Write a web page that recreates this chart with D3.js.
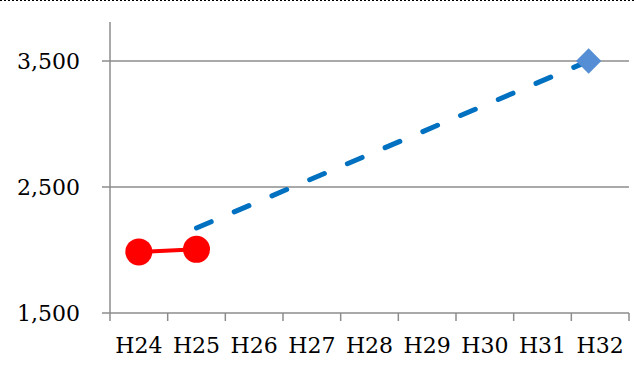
<!DOCTYPE html>
<html><head><meta charset="utf-8">
<script src="https://cdn.jsdelivr.net/npm/d3@7"></script>
<style>body{margin:0;background:#fff}svg{display:block}</style>
</head><body><svg id="c" width="634" height="377"></svg>
<script>
const categories = ["H24","H25","H26","H27","H28","H29","H30","H31","H32"];
const actualValues = [1985, 2005];           // H24, H25 (red)
const targetPositions = [1.0, 7.8];           // category-index positions of the target line ends
const targetValues = [2175, 3500];            // dashed blue line values
const yTicks = [1500, 2500, 3500];

const svg = d3.select("#c");
const W = 634, H = 377;

// dotted top border
svg.append("line").attr("x1",0).attr("x2",W).attr("y1",0.5).attr("y2",0.5)
  .attr("stroke","#000").attr("stroke-width",1).attr("stroke-dasharray","2,2");

const x = d3.scaleBand().domain(categories).range([110, 629]).paddingInner(0).paddingOuter(0);
const xi = d3.scaleLinear().domain([0, categories.length]).range([110, 629]);
const y = d3.scaleLinear().domain([1500, 3500]).range([313, 61]);
const yTop = 22;

const font = "'DejaVu Serif',serif";

// gridlines
svg.append("g").selectAll("line").data(yTicks).join("line")
  .attr("x1",102).attr("x2",629).attr("y1",d=>y(d)).attr("y2",d=>y(d))
  .attr("stroke","#8c8c8c").attr("stroke-width",1.5);

// y axis line
svg.append("line").attr("x1",110).attr("x2",110).attr("y1",yTop).attr("y2",313)
  .attr("stroke","#8c8c8c").attr("stroke-width",1.5);

// x ticks
const tickXs = d3.range(categories.length + 1).map(i => xi(i));
svg.append("g").selectAll("line").data(tickXs).join("line")
  .attr("x1",d=>d).attr("x2",d=>d).attr("y1",313).attr("y2",321)
  .attr("stroke","#8c8c8c").attr("stroke-width",1.5);

// y labels
svg.append("g").selectAll("text").data(yTicks).join("text")
  .attr("x",80).attr("y",d=>y(d)).attr("dy","0.36em").attr("text-anchor","end")
  .attr("font-family",font).attr("font-size",22).attr("fill","#000")
  .text(d=>d3.format(",")(d));

// x labels
svg.append("g").selectAll("text").data(categories).join("text")
  .attr("x",d=>x(d)+x.bandwidth()/2).attr("y",345).attr("dy","0.36em").attr("text-anchor","middle")
  .attr("font-family",font).attr("font-size",22).attr("fill","#000")
  .text(d=>d);

// target dashed line
const tpts = targetPositions.map((p,i)=>[xi(p+0.5), y(targetValues[i])]);
svg.append("path").attr("d", d3.line()(tpts))
  .attr("fill","none").attr("stroke","#0070C0").attr("stroke-width",5)
  .attr("stroke-linecap","round").attr("stroke-dasharray","16,25");
// diamond marker at target end
svg.append("path")
  .attr("d", d3.symbol().type(d3.symbolSquare).size(320)())
  .attr("transform",`translate(${tpts[1][0]},${tpts[1][1]}) rotate(45)`)
  .attr("fill","#558ED5");

// actual red line
const apts = actualValues.map((v,i)=>[x(categories[i])+x.bandwidth()/2, y(v)]);
svg.append("path").attr("d", d3.line()(apts))
  .attr("fill","none").attr("stroke","#FF0000").attr("stroke-width",4);
svg.append("g").selectAll("circle").data(apts).join("circle")
  .attr("cx",d=>d[0]).attr("cy",d=>d[1]).attr("r",13.5).attr("fill","#FF0000");
</script></body></html>
